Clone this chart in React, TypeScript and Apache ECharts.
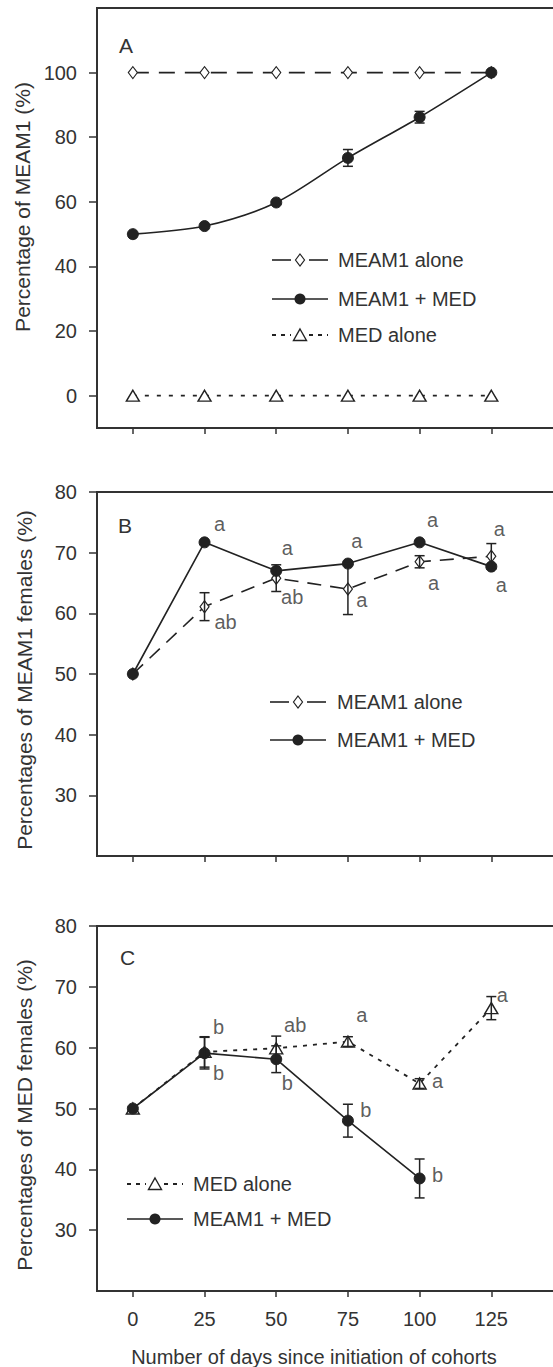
import React, { useEffect, useRef } from "react";
import * as echarts from "echarts";

// ---------- data ----------
const days = [0, 25, 50, 75, 100, 125];
const dayTicks = [0, 25, 50, 75, 100, 125];
const ticksA = [0, 20, 40, 60, 80, 100];
const ticksBC = [30, 40, 50, 60, 70, 80];

const legendNames = ["MEAM1 alone", "MEAM1 + MED", "MED alone"];
const yTitleA = "Percentage of MEAM1 (%)";
const yTitleB = "Percentages of MEAM1 females (%)";
const yTitleC = "Percentages of MED females (%)";
const xTitle = "Number of days since initiation of cohorts";
const panelLetters = ["A", "B", "C"];

// Panel A
const aMeam1Alone = [100, 100, 100, 100, 100, 100];
const aMix = [50, 52.5, 59.8, 73.6, 86.2, 100];
const aMixErr = [0, 0, 0, 2.6, 1.8, 0];
const aMedAlone = [0, 0, 0, 0, 0, 0];

// Panel B
const bMeam1Alone = [50, 61.1, 65.8, 64.0, 68.5, 69.4];
const bMeam1AloneErr = [0, 2.3, 2.2, 4.2, 1.0, 2.1];
const bMix = [50, 71.7, 67.0, 68.2, 71.7, 67.7];
const bMixErr = [0, 0, 0, 0, 0, 0];
const bMixLetters = ["", "a", "a", "a", "a", "a"];
const bAloneLetters = ["", "ab", "ab", "a", "a", "a"];

// Panel C
const cMedAlone = [50, 59.3, 59.9, 61.0, 54.1, 66.5];
const cMedAloneErr = [0, 2.5, 2.0, 0.8, 0.8, 1.9];
const cMix = [50, 59.1, 58.1, 48.0, 38.5];
const cMixErr = [0, 2.6, 2.2, 2.7, 3.2];
const cMedLetters = ["", "b", "ab", "a", "a", "a"];
const cMixLetters = ["", "b", "b", "b", "b"];

// ---------- styles ----------
const FONT = '"Liberation Sans", Arial, Helvetica, sans-serif';
const INK = "#222";
const TXT = "#333";
const AXIS = "#333";

const pts = (ys: number[]) => ys.map((y, i) => [days[i], y]);
const errPts = (ys: number[], es: number[]) =>
  ys.map((y, i) => [days[i], y - es[i], y + es[i]]).filter((_, i) => es[i] > 0);

const styleDashDiamond = (idx: number, name: string, ys: number[], dash: number[]) => ({
  type: "line",
  name,
  xAxisIndex: idx,
  yAxisIndex: idx,
  data: pts(ys),
  symbol: "diamond",
  symbolSize: [9, 12],
  showAllSymbol: true,
  itemStyle: { color: "#fff", borderColor: INK, borderWidth: 1.2 },
  lineStyle: { color: INK, width: 1.6, type: dash },
  z: 2,
});
const styleSolidCircle = (idx: number, name: string, ys: number[], smooth: any) => ({
  type: "line",
  name,
  xAxisIndex: idx,
  yAxisIndex: idx,
  data: pts(ys),
  symbol: "circle",
  symbolSize: 11,
  showAllSymbol: true,
  smooth,
  itemStyle: { color: INK, borderColor: INK, borderWidth: 1 },
  lineStyle: { color: INK, width: 1.6, type: "solid" },
  z: 3,
});
const styleDotTriangle = (idx: number, name: string, ys: number[], dash: number[]) => ({
  type: "line",
  name,
  xAxisIndex: idx,
  yAxisIndex: idx,
  data: pts(ys),
  symbol: "triangle",
  symbolSize: [13, 11],
  showAllSymbol: true,
  itemStyle: { color: "#fff", borderColor: INK, borderWidth: 1.4 },
  lineStyle: { color: INK, width: 1.8, type: dash },
  z: 2,
});

const errSeries = (idx: number, data: number[][]) => ({
  type: "custom",
  xAxisIndex: idx,
  yAxisIndex: idx,
  data,
  encode: { x: 0, y: [1, 2] },
  silent: true,
  z: 4,
  renderItem: (params: any, api: any) => {
    const x = api.value(0);
    const lo = api.coord([x, api.value(1)]);
    const hi = api.coord([x, api.value(2)]);
    const w = 5;
    const st = { stroke: INK, lineWidth: 1.5 };
    return {
      type: "group",
      children: [
        { type: "line", shape: { x1: hi[0], y1: hi[1], x2: lo[0], y2: lo[1] }, style: st },
        { type: "line", shape: { x1: hi[0] - w, y1: hi[1], x2: hi[0] + w, y2: hi[1] }, style: st },
        { type: "line", shape: { x1: lo[0] - w, y1: lo[1], x2: lo[0] + w, y2: lo[1] }, style: st },
      ],
    };
  },
});

const letterSeries = (idx: number, ys: number[], letters: string[], offs: (number[] | null)[]) => ({
  type: "scatter",
  xAxisIndex: idx,
  yAxisIndex: idx,
  symbolSize: 0,
  silent: true,
  z: 5,
  data: ys
    .map((y, i) => ({
      value: [days[i], y],
      label: {
        show: !!letters[i],
        formatter: letters[i],
        position: "inside",
        offset: offs[i] || [0, 0],
        fontSize: 20,
        fontFamily: FONT,
        color: TXT,
      },
    }))
    .filter((_, i) => !!letters[i]),
});

const grids = [
  { left: 97, top: 8, width: 466, height: 420 },
  { left: 97, top: 492, width: 466, height: 364 },
  { left: 97, top: 926, width: 466, height: 365 },
];

const makeX = (i: number) => ({
  gridIndex: i,
  type: "value",
  min: -12.5,
  max: 150,
  axisLine: { show: true, onZero: false, lineStyle: { color: AXIS, width: 2 } },
  axisTick: { show: true, length: 6, customValues: dayTicks, lineStyle: { color: AXIS, width: 1.5 } },
  axisLabel: {
    show: i === 2,
    customValues: dayTicks,
    margin: 18,
    fontSize: 20,
    color: TXT,
    fontFamily: FONT,
  },
  splitLine: { show: false },
  name: i === 2 ? xTitle : "",
  nameLocation: "middle",
  nameGap: 56,
  nameTextStyle: { fontSize: 20, color: TXT, fontFamily: FONT, padding: [0, 32, 0, 0] },
});

const makeY = (i: number, min: number, max: number, ticks: number[], title: string, pad: number[]) => ({
  gridIndex: i,
  type: "value",
  min,
  max,
  axisLine: { show: true, onZero: false, lineStyle: { color: AXIS, width: 2 } },
  axisTick: { show: true, length: 8, customValues: ticks, lineStyle: { color: AXIS, width: 1.5 } },
  axisLabel: { customValues: ticks, margin: 20, fontSize: 20, color: TXT, fontFamily: FONT },
  splitLine: { show: false },
  name: title,
  nameLocation: "middle",
  nameRotate: 90,
  nameGap: 62,
  nameTextStyle: { fontSize: 21, color: TXT, fontFamily: FONT, padding: pad },
});

// legend drawing helpers (graphic)
const txt = (x: number, y: number, text: string, size = 20) => ({
  type: "text",
  x,
  y,
  silent: true,
  style: { text, fontSize: size, fontFamily: FONT, fill: TXT, align: "left", verticalAlign: "middle" },
});
const seg = (x1: number, x2: number, y: number, dash?: number[], w = 1.6) => ({
  type: "line",
  silent: true,
  shape: { x1, y1: y, x2, y2: y },
  style: { stroke: INK, lineWidth: w, lineDash: dash || null },
});
const diamond = (x: number, y: number) => ({
  type: "polygon",
  silent: true,
  shape: { points: [[x, y - 6], [x + 4.5, y], [x, y + 6], [x - 4.5, y]] },
  style: { fill: "#fff", stroke: INK, lineWidth: 1.2 },
  z: 10,
});
const tri = (x: number, y: number) => ({
  type: "polygon",
  silent: true,
  shape: { points: [[x, y - 6], [x + 6.5, y + 5.5], [x - 6.5, y + 5.5]] },
  style: { fill: "#fff", stroke: INK, lineWidth: 1.4 },
  z: 10,
});
const dot = (x: number, y: number) => ({
  type: "circle",
  silent: true,
  shape: { cx: x, cy: y, r: 5.5 },
  style: { fill: INK },
  z: 10,
});

const rowDiamond = (x0: number, xs: number, x1: number, y: number, xt: number, t: string) => [
  seg(x0, xs - 9, y),
  seg(xs + 9, x1, y),
  diamond(xs, y),
  txt(xt, y, t),
];
const rowCircle = (x0: number, xs: number, x1: number, y: number, xt: number, t: string) => [
  seg(x0, x1, y),
  dot(xs, y),
  txt(xt, y, t),
];
const rowTri = (x0: number, xs: number, x1: number, y: number, xt: number, t: string) => [
  seg(x0, xs - 9, y, [4, 5], 1.8),
  seg(xs + 9, x1, y, [4, 5], 1.8),
  tri(xs, y),
  txt(xt, y, t),
];

export default function App() {
  const ref = useRef<HTMLDivElement>(null);
  useEffect(() => {
    if (!ref.current) return;
    const chart = echarts.init(ref.current, null, { renderer: "svg" });
    const option: any = {
      animation: false,
      backgroundColor: "#fff",
      grid: grids.map((g) => ({
        ...g,
        show: true,
        borderColor: AXIS,
        borderWidth: 2,
        containLabel: false,
        outerBoundsMode: "none",
      })),
      xAxis: [makeX(0), makeX(1), makeX(2)],
      yAxis: [
        makeY(0, -10, 120, ticksA, yTitleA, [0, 0, 0, 22]),
        makeY(1, 20, 80, ticksBC, yTitleB, [0, 12, 0, 0]),
        makeY(2, 20, 80, ticksBC, yTitleC, [0, 13, 0, 0]),
      ],
      series: [
        // A
        styleDashDiamond(0, legendNames[0], aMeam1Alone, [16, 10]),
        styleSolidCircle(0, legendNames[1], aMix, 0.3),
        styleDotTriangle(0, legendNames[2], aMedAlone, [4, 8]),
        errSeries(0, errPts(aMix, aMixErr)),
        // B
        styleDashDiamond(1, legendNames[0], bMeam1Alone, [14, 9]),
        styleSolidCircle(1, legendNames[1], bMix, false),
        errSeries(1, errPts(bMeam1Alone, bMeam1AloneErr)),
        errSeries(1, errPts(bMix, bMixErr)),
        letterSeries(1, bMix, bMixLetters, [null, [15, -18], [11, -23], [9, -23], [13, -22], [10, 18]]),
        letterSeries(1, bMeam1Alone, bAloneLetters, [null, [21, 15], [16, 19], [14, 11], [14, 21], [8, -27]]),
        // C
        styleDotTriangle(2, legendNames[2], cMedAlone, [4, 6]),
        styleSolidCircle(2, legendNames[1], cMix, false),
        errSeries(2, errPts(cMedAlone, cMedAloneErr)),
        errSeries(2, errPts(cMix, cMixErr)),
        letterSeries(2, cMedAlone, cMedLetters, [null, [14, -25], [19, -23], [14, -27], [18, -3], [11, -13]]),
        letterSeries(2, cMix, cMixLetters, [null, [14, 20], [11, 24], [18, -11], [18, -3]]),
      ],
      graphic: [
        txt(119, 45, panelLetters[0], 21),
        txt(118, 525, panelLetters[1], 21),
        txt(120, 957, panelLetters[2], 21),
        ...rowDiamond(272, 300, 328, 260, 338, legendNames[0]),
        ...rowCircle(272, 300, 328, 299, 338, legendNames[1]),
        ...rowTri(272, 300, 328, 335, 338, legendNames[2]),
        ...rowDiamond(270, 298, 326, 702, 337, legendNames[0]),
        ...rowCircle(270, 298, 326, 740, 337, legendNames[1]),
        ...rowTri(127, 155, 183, 1184, 193, legendNames[2]),
        ...rowCircle(127, 155, 183, 1219, 193, legendNames[1]),
      ],
    };
    chart.setOption(option);
    return () => chart.dispose();
  }, []);
  return (
    <div
      ref={ref}
      style={{ position: "absolute", left: 0, top: 0, width: 553, height: 1367, background: "#fff" }}
    />
  );
}
